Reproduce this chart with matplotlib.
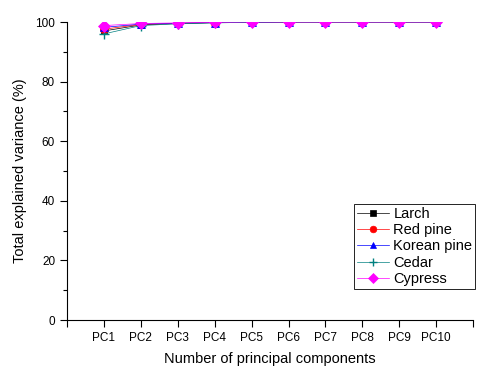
import matplotlib
matplotlib.use("Agg")
import matplotlib.pyplot as plt
from matplotlib.ticker import MultipleLocator

plt.rcParams['font.family'] = ['Liberation Sans', 'DejaVu Sans']

pcs = ["PC1", "PC2", "PC3", "PC4", "PC5", "PC6", "PC7", "PC8", "PC9", "PC10"]
larch = [97.0, 99.0, 99.5, 99.8, 99.9, 100.0, 100.0, 100.0, 100.0, 100.0]
red_pine = [97.6, 99.2, 99.6, 99.8, 99.9, 100.0, 100.0, 100.0, 100.0, 100.0]
korean_pine = [98.2, 99.3, 99.6, 99.8, 99.9, 100.0, 100.0, 100.0, 100.0, 100.0]
cedar = [96.0, 98.8, 99.4, 99.7, 99.9, 100.0, 100.0, 100.0, 100.0, 100.0]
cypress = [98.8, 99.5, 99.7, 99.9, 100.0, 100.0, 100.0, 100.0, 100.0, 100.0]

series = [
    ("Larch", larch, "black", "s", 5),
    ("Red pine", red_pine, "red", "o", 6),
    ("Korean pine", korean_pine, "blue", "^", 6),
    ("Cedar", cedar, "#008080", "+", 7),
    ("Cypress", cypress, "magenta", "D", 6),
]

fig = plt.figure(figsize=(4.78, 3.73), dpi=100)
ax = fig.add_axes([0.140, 0.142, 0.850, 0.799])
x = list(range(1, len(pcs) + 1))
for name, vals, c, m, ms in series:
    ax.plot(x, vals, color=c, marker=m, markersize=ms, linewidth=0.5,
            markeredgewidth=1 if m == "+" else 0.5, label=name)

ax.set_xlim(0, 11)
ax.set_ylim(0, 100)
ax.set_xticks(range(0, 12))
ax.set_xticklabels([""] + pcs + [""])
ax.yaxis.set_major_locator(MultipleLocator(20))
ax.yaxis.set_minor_locator(MultipleLocator(10))
ax.spines['top'].set_visible(False)
ax.spines['right'].set_visible(False)
ax.tick_params(axis='both', which='major', direction='out', length=5, width=0.8, labelsize=8.5)
ax.tick_params(axis='y', which='minor', direction='out', length=3, width=0.8)
ax.set_xlabel("Number of principal components", fontsize=10.5, labelpad=6)
ax.set_ylabel("Total explained variance (%)", fontsize=10.5, labelpad=6)

leg = ax.legend(loc='lower right', bbox_to_anchor=(1.005, 0.105), fontsize=10.5,
                frameon=True, fancybox=False, edgecolor='black', framealpha=1,
                borderpad=0.2, labelspacing=0.15, handlelength=2.2, handletextpad=0.3,
                borderaxespad=0, markerscale=0.8)
leg.get_frame().set_linewidth(0.6)

fig.savefig("out.png", dpi=100)
